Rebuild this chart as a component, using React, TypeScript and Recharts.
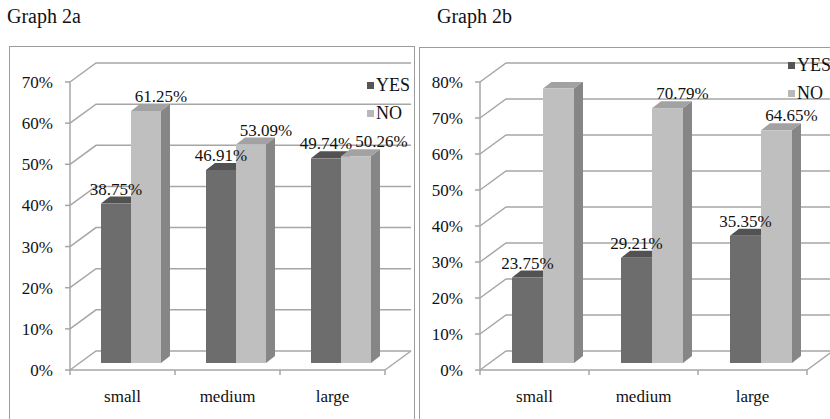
import React from 'react';
import { BarChart, Bar, XAxis, YAxis, CartesianGrid, Legend } from 'recharts';

// ---- data ----
const categories = ['small', 'medium', 'large'];
const seriesNames = ['YES', 'NO'];
const yes2a = [38.75, 46.91, 49.74];
const no2a = [61.25, 53.09, 50.26];
const yes2b = [23.75, 29.21, 35.35];
const no2b = [76.25, 70.79, 64.65];
const ticks2a = [0, 10, 20, 30, 40, 50, 60, 70];
const ticks2b = [0, 10, 20, 30, 40, 50, 60, 70, 80];

// ---- look ----
const SERIF = 'Liberation Serif, Times New Roman, serif';
const GRID = '#a6a6a6';
const TEXT = '#111111';
const LABEL_SIZE = 17;
const FACES: Record<string, { front: string; top: string; side: string; key: string }> = {
  YES: { front: '#6d6d6d', top: '#525252', side: '#484848', key: '#555555' },
  NO: { front: '#bfbfbf', top: '#a2a2a2', side: '#868686', key: '#b8b8b8' },
};
// 3D projection offsets
const WALL_DX = 26;
const WALL_DY = 19;
const ROW_DX = 8;
const ROW_DY = 7;
const DEPTH_DX = 9;
const DEPTH_DY = 7;

const CHART_H = 419;
const PLOT_TOP = 82;
const PLOT_BOTTOM = 370;
const Y_AXIS_W = 40;
const X_AXIS_H = 40;

const fmtPct = (v: number) => `${v.toFixed(2)}%`;
const approxWidth = (s: string, size: number) => {
  let w = 0;
  for (const ch of s) w += ch === '%' ? 0.833 : ch === '.' ? 0.25 : 0.5;
  return w * size;
};

function box(x: number, y: number, w: number, h: number, c: { front: string; top: string; side: string }) {
  const fx = x + ROW_DX;
  const fy = y - ROW_DY;
  return (
    <>
      <polygon
        points={`${fx},${fy} ${fx + DEPTH_DX},${fy - DEPTH_DY} ${fx + w + DEPTH_DX},${fy - DEPTH_DY} ${fx + w},${fy}`}
        fill={c.top}
      />
      <polygon
        points={`${fx + w},${fy} ${fx + w + DEPTH_DX},${fy - DEPTH_DY} ${fx + w + DEPTH_DX},${fy + h - DEPTH_DY} ${fx + w},${fy + h}`}
        fill={c.side}
      />
      <rect x={fx} y={fy} width={w} height={h} fill={c.front} />
    </>
  );
}

const YesShape = (props: any) => {
  const { x, y, width, height } = props;
  return <g>{box(x, y, width, height, FACES.YES)}</g>;
};

// The NO column is drawn last, so it also carries the value labels of its category,
// keeping every label above both columns.
const NoShape = (props: any) => {
  const { x, y, width, height, payload } = props;
  const unit = payload.NO ? height / payload.NO : 0;
  const yesH = payload.YES * unit;
  const yesX = x - width;
  const yesY = y + height - yesH;

  const yesText = fmtPct(payload.YES);
  const noText = fmtPct(payload.NO);
  const yesCx = yesX + ROW_DX + width / 2;
  const yesBase = yesY - ROW_DY - 9;
  let noCx = x + ROW_DX + width / 2 + 15;
  const noBase = y - ROW_DY - 9;
  if (Math.abs(noBase - yesBase) < LABEL_SIZE) {
    noCx = Math.max(noCx, yesCx + approxWidth(yesText, LABEL_SIZE) / 2 + 3 + approxWidth(noText, LABEL_SIZE) / 2);
  }
  return (
    <g>
      {box(x, y, width, height, FACES.NO)}
      <text x={yesCx} y={yesBase} textAnchor="middle" fontFamily={SERIF} fontSize={LABEL_SIZE} fill={TEXT}>
        {yesText}
      </text>
      <text x={noCx} y={noBase} textAnchor="middle" fontFamily={SERIF} fontSize={LABEL_SIZE} fill={TEXT}>
        {noText}
      </text>
    </g>
  );
};

// Back-wall grid line: diagonal from the front axis, then across the back wall.
const wallLine = (props: any) => {
  const { x1, x2, y1, index } = props;
  const bottom = typeof props.y === 'number' && typeof props.height === 'number' ? props.y + props.height : null;
  const isFloor = bottom !== null ? Math.abs(y1 - bottom) < 0.5 : index === 0;
  const by = y1 - WALL_DY;
  return (
    <g key={`wall-${index}`}>
      <polyline
        points={`${x1},${y1} ${x1 + WALL_DX},${by} ${x2 + WALL_DX},${by}`}
        fill="none"
        stroke={GRID}
        strokeWidth={1.5}
      />
      {isFloor && <line x1={x2} y1={y1} x2={x2 + WALL_DX} y2={by} stroke={GRID} strokeWidth={1.5} />}
    </g>
  );
};

const makeCategoryTick = (bandHalf: number) => (props: any) => {
  const { x, y, payload, index, visibleTicksCount } = props;
  const half = payload && payload.offset > 0 ? payload.offset : bandHalf;
  const last = index === (visibleTicksCount ?? categories.length) - 1;
  return (
    <g>
      <line x1={x - half} y1={y} x2={x - half} y2={y + 5} stroke={GRID} strokeWidth={1.5} />
      {last && <line x1={x + half} y1={y} x2={x + half} y2={y + 5} stroke={GRID} strokeWidth={1.5} />}
      <text x={x} y={y + 32} textAnchor="middle" fontFamily={SERIF} fontSize={LABEL_SIZE} fill={TEXT}>
        {payload.value}
      </text>
    </g>
  );
};

const ValueTick = (props: any) => {
  const { x, y, payload } = props;
  return (
    <text x={x} y={y} dy={6} textAnchor="end" fontFamily={SERIF} fontSize={LABEL_SIZE} fill={TEXT}>
      {`${payload.value}%`}
    </text>
  );
};

const LegendKey = ({ payload }: any) => {
  const items = [...(payload || [])].sort(
    (a: any, b: any) => seriesNames.indexOf(a.value) - seriesNames.indexOf(b.value)
  );
  return (
    <div style={{ position: 'relative', width: 70, height: 56, fontFamily: SERIF, fontSize: 18, color: TEXT }}>
      {items.map((entry: any, i: number) => (
        <div
          key={entry.value}
          style={{ position: 'absolute', left: 0, top: i * 28, height: 28, display: 'flex', alignItems: 'center', whiteSpace: 'nowrap' }}
        >
          <span style={{ display: 'inline-block', width: 7, height: 7, background: entry.color, marginRight: 2 }} />
          <span style={{ lineHeight: '18px', fontFamily: SERIF }}>{entry.value}</span>
        </div>
      ))}
    </div>
  );
};

type PanelProps = {
  title: string;
  yes: number[];
  no: number[];
  ticks: number[];
  left: number;
  width: number;
  plotLeft: number;
  plotRight: number;
  barSize: number;
  titleX: number;
  legendX: number;
  legendY: number;
};

function Panel(p: PanelProps) {
  const data = categories.map((c, i) => ({ category: c, [seriesNames[0]]: p.yes[i], [seriesNames[1]]: p.no[i] }));
  const max = p.ticks[p.ticks.length - 1];
  const bandHalf = (p.plotRight - p.plotLeft) / categories.length / 2;
  return (
    <>
      <div
        style={{
          position: 'absolute',
          left: p.titleX,
          top: 6,
          fontFamily: SERIF,
          fontSize: 20,
          lineHeight: '20px',
          color: TEXT,
          whiteSpace: 'nowrap',
        }}
      >
        {p.title}
      </div>
      <div style={{ position: 'absolute', left: p.left, top: 0, fontFamily: SERIF }}>
        <BarChart
          width={p.width}
          height={CHART_H}
          data={data}
          barGap={0}
          style={{ fontFamily: SERIF }}
          margin={{
            top: PLOT_TOP,
            bottom: CHART_H - PLOT_BOTTOM - X_AXIS_H,
            left: p.plotLeft - Y_AXIS_W,
            right: p.width - p.plotRight,
          }}
        >
          <CartesianGrid vertical={false} horizontal={wallLine} />
          <XAxis
            dataKey="category"
            height={X_AXIS_H}
            interval={0}
            tickLine={false}
            tickSize={0}
            tickMargin={0}
            axisLine={{ stroke: GRID, strokeWidth: 1.5 }}
            tick={makeCategoryTick(bandHalf)}
          />
          <YAxis
            width={Y_AXIS_W}
            domain={[0, max]}
            ticks={p.ticks}
            interval={0}
            allowDataOverflow
            tickSize={5}
            tickMargin={12}
            axisLine={{ stroke: GRID, strokeWidth: 1.5 }}
            tickLine={{ stroke: GRID, strokeWidth: 1.5 }}
            tick={<ValueTick />}
          />
          <Legend
            layout="vertical"
            align="center"
            verticalAlign="middle"
            content={<LegendKey />}
            wrapperStyle={{ left: p.legendX, top: p.legendY, width: 70 }}
          />
          <Bar dataKey="YES" name="YES" fill={FACES.YES.key} barSize={p.barSize} shape={YesShape} isAnimationActive={false} />
          <Bar dataKey="NO" name="NO" fill={FACES.NO.key} barSize={p.barSize} shape={NoShape} isAnimationActive={false} />
        </BarChart>
      </div>
    </>
  );
}

const frameStyle = (x: number, y: number, w: number): React.CSSProperties => ({
  position: 'absolute',
  left: x,
  top: y,
  width: w,
  height: 420,
  boxSizing: 'border-box',
  border: '1px solid #9c9c9c',
});

export default function App() {
  return (
    <div
      style={{
        position: 'fixed',
        left: 0,
        top: 0,
        width: 830,
        height: 419,
        overflow: 'hidden',
        background: '#ffffff',
        fontFamily: SERIF,
      }}
    >
      <div style={frameStyle(9, 46, 406)} />
      <div style={frameStyle(419, 47, 460)} />
      <Panel
        title="Graph 2a"
        yes={yes2a}
        no={no2a}
        ticks={ticks2a}
        left={0}
        width={415}
        plotLeft={70}
        plotRight={385}
        barSize={30}
        titleX={7}
        legendX={367}
        legendY={71}
      />
      <Panel
        title="Graph 2b"
        yes={yes2b}
        no={no2b}
        ticks={ticks2b}
        left={410}
        width={420}
        plotLeft={70}
        plotRight={397}
        barSize={31}
        titleX={437}
        legendX={378}
        legendY={51}
      />
    </div>
  );
}
